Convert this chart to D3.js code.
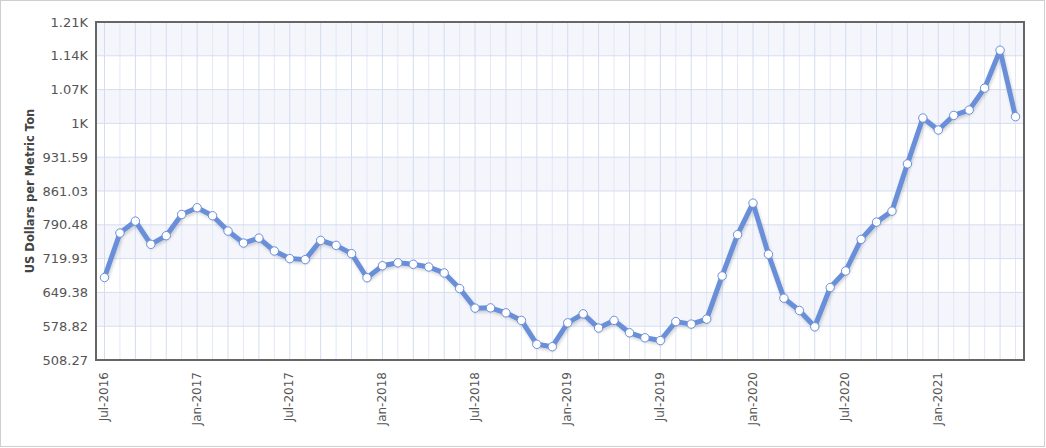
<!DOCTYPE html>
<html><head><meta charset="utf-8">
<script src="https://cdn.jsdelivr.net/npm/d3@7"></script>
<style>
html,body{margin:0;padding:0;background:#fff;}
svg{display:block;font-family:"DejaVu Sans",Verdana,sans-serif;}
</style></head>
<body>
<svg id="chart" width="1046" height="448"></svg>
<script>
const months = ["Jul-2016","Aug-2016","Sep-2016","Oct-2016","Nov-2016","Dec-2016",
"Jan-2017","Feb-2017","Mar-2017","Apr-2017","May-2017","Jun-2017",
"Jul-2017","Aug-2017","Sep-2017","Oct-2017","Nov-2017","Dec-2017",
"Jan-2018","Feb-2018","Mar-2018","Apr-2018","May-2018","Jun-2018",
"Jul-2018","Aug-2018","Sep-2018","Oct-2018","Nov-2018","Dec-2018",
"Jan-2019","Feb-2019","Mar-2019","Apr-2019","May-2019","Jun-2019",
"Jul-2019","Aug-2019","Sep-2019","Oct-2019","Nov-2019","Dec-2019",
"Jan-2020","Feb-2020","Mar-2020","Apr-2020","May-2020","Jun-2020",
"Jul-2020","Aug-2020","Sep-2020","Oct-2020","Nov-2020","Dec-2020",
"Jan-2021","Feb-2021","Mar-2021","Apr-2021","May-2021","Jun-2021"];
const prices = [680.4,773.2,798.2,749.7,767.8,812.1,
826.1,809.4,777.4,752.4,762.8,735.8,
719.9,717.8,758.0,747.6,730.3,680.0,
705.0,711.2,708.1,702.4,690.0,657.5,
616.5,617.1,606.7,590.9,541.0,536.0,
585.9,604.6,574.9,590.9,565.1,554.7,
548.9,588.4,583.2,593.6,683.7,769.9,
835.7,728.9,637.3,611.7,577.6,659.6,
694.1,760.1,796.1,819.0,917.6,1013.4,
988.4,1018.8,1030.0,1075.8,1154.9,1016.1];
const yTickValues = [508.27,578.82,649.38,719.93,790.48,861.03,931.59,1002.14,1072.69,1143.24,1213.8];
const yTickLabels = ["508.27","578.82","649.38","719.93","790.48","861.03","931.59","1K","1.07K","1.14K","1.21K"];
const xTickLabels = ["Jul-2016","Jan-2017","Jul-2017","Jan-2018","Jul-2018","Jan-2019","Jul-2019","Jan-2020","Jul-2020","Jan-2021"];
const yTitle = "US Dollars per Metric Ton";

const svg = d3.select("#chart");
const L = 96, R = 1024, T = 22, B = 360;

svg.append("rect").attr("x",0.5).attr("y",0.5).attr("width",1044).attr("height",446)
  .attr("fill","#fff").attr("stroke","#cfcfcf").attr("stroke-width",1);

const x = d3.scaleLinear().domain([-0.55, 59.55]).range([L, R]);
const y = d3.scaleLinear().domain([yTickValues[0], yTickValues[yTickValues.length-1]]).range([B, T]);

const defs = svg.append("defs");
const f = defs.append("filter").attr("id","sh").attr("x","-5%").attr("y","-5%").attr("width","110%").attr("height","120%");
f.append("feDropShadow").attr("dx",1).attr("dy",2).attr("stdDeviation",1.5).attr("flood-color","#000").attr("flood-opacity",0.18);
defs.append("clipPath").attr("id","clip").append("rect").attr("x",L).attr("y",T).attr("width",R-L).attr("height",B-T);

const g = svg.append("g");
for (let i = 0; i < yTickValues.length-1; i++) {
  if ((yTickValues.length-2-i) % 2 === 0) {
    g.append("rect").attr("x",L).attr("width",R-L)
      .attr("y",y(yTickValues[i+1])).attr("height",y(yTickValues[i])-y(yTickValues[i+1]))
      .attr("fill","#f4f6fc");
  }
}
g.selectAll("line.vg").data(months).join("line").attr("class","vg")
  .attr("x1",(d,i)=>x(i)).attr("x2",(d,i)=>x(i)).attr("y1",T).attr("y2",B)
  .attr("stroke",(d,i)=> i%2===0 ? "#d3dcf1" : "#e2e8f6").attr("stroke-width",1);
g.selectAll("line.hg").data(yTickValues).join("line").attr("class","hg")
  .attr("x1",L).attr("x2",R).attr("y1",d=>y(d)).attr("y2",d=>y(d))
  .attr("stroke","#d6ddf0").attr("stroke-width",1);

const yAxis = d3.axisLeft(y).tickValues(yTickValues).tickSize(0).tickPadding(8)
  .tickFormat((d,i)=>yTickLabels[i]);
const ya = svg.append("g").attr("transform",`translate(${L},0)`).call(yAxis);
ya.select(".domain").remove();
ya.selectAll("text").attr("font-size","13px").attr("fill","#555").attr("font-family","DejaVu Sans, sans-serif");

const xIdx = xTickLabels.map(l => months.indexOf(l));
const xAxis = d3.axisBottom(x).tickValues(xIdx).tickSize(0).tickFormat(d => months[d]);
const xa = svg.append("g").attr("transform",`translate(0,${B})`).call(xAxis);
xa.select(".domain").remove();
xa.selectAll("text").attr("font-size","12px").attr("fill","#555").attr("font-family","DejaVu Sans, sans-serif")
  .attr("transform","rotate(-90)").attr("text-anchor","end").attr("x",-12).attr("y",-1).attr("dy","0.35em");

svg.append("text").attr("transform",`translate(34,${(T+B)/2}) rotate(-90)`)
  .attr("text-anchor","middle").attr("font-size","11.5px").attr("font-weight","bold").attr("fill","#444")
  .text(yTitle);

const line = d3.line().x((d,i)=>x(i)).y(d=>y(d));
const pg = svg.append("g").attr("clip-path","url(#clip)");
pg.append("path").datum(prices).attr("d",line).attr("fill","none")
  .attr("stroke","#6b8fd9").attr("stroke-width",5).attr("stroke-linejoin","round")
  .attr("filter","url(#sh)");
pg.selectAll("circle").data(prices).join("circle")
  .attr("cx",(d,i)=>x(i)).attr("cy",d=>y(d)).attr("r",4.2)
  .attr("fill","#fff").attr("stroke","#6b8fd9").attr("stroke-width",1);

svg.append("rect").attr("x",L).attr("y",T).attr("width",R-L).attr("height",B-T)
  .attr("fill","none").attr("stroke","#666").attr("stroke-width",2);
</script>
</body></html>
